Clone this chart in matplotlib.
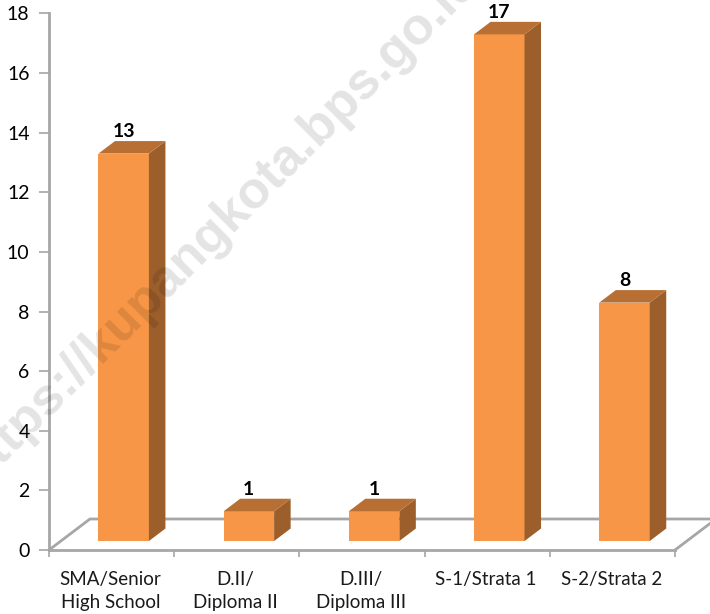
import matplotlib
matplotlib.use('Agg')
import matplotlib.pyplot as plt
from matplotlib.patches import Polygon

categories = ['SMA/Senior\nHigh School', 'D.II/\nDiploma II', 'D.III/\nDiploma III', 'S-1/Strata 1', 'S-2/Strata 2']
values = [13, 1, 1, 17, 8]
y_ticks = [0, 2, 4, 6, 8, 10, 12, 14, 16, 18]
watermark = 'https://kupangkota.bps.go.id'

plt.rcParams['font.family'] = ['Lato', 'DejaVu Sans']

W, H = 710, 614
AXIS = '#a6a6a6'
FRONT = '#f79646'
SIDE = '#9c5f2c'
TOP = '#b86f34'

# everything below is in data units: 1 category wide, 18 units high
bar_left = 0.395
bar_w = 0.403
floor = 0.3
dx = 0.132
dy = 0.42

fig = plt.figure(figsize=(W / 100, H / 100), dpi=100)
ax = fig.add_axes([49 / W, 1 - 550 / H, 626 / W, 536.5 / H])
ax.set_xlim(0, 5)
ax.set_ylim(0, 18)
ax.patch.set_alpha(0)

for s in ['top', 'right']:
    ax.spines[s].set_visible(False)
for s in ['left', 'bottom']:
    ax.spines[s].set_color(AXIS)
    ax.spines[s].set_linewidth(2)

ax.set_yticks(y_ticks)
ax.set_xticks(range(6))
ax.set_xticklabels([''] * 6)
ax.tick_params(axis='y', length=7, color=AXIS, width=1.2, labelsize=14, pad=7, labelcolor='black')
ax.tick_params(axis='x', length=5, color=AXIS, width=1.2)

# floor of the 3D box
ax.plot([0, 0.327, 5.4], [0, 1.04, 1.04], color=AXIS, lw=2, clip_on=False, zorder=1)
ax.plot([5, 5.327], [0, 1.04], color=AXIS, lw=2, clip_on=False, zorder=1)

for i, v in enumerate(values):
    x0 = i + bar_left
    x1 = x0 + bar_w
    y1 = v + floor
    ax.bar(x0, v, width=bar_w, bottom=floor, align='edge', color=FRONT, zorder=3)
    ax.add_patch(Polygon([(x1, floor), (x1 + dx, floor + dy), (x1 + dx, y1 + dy), (x1, y1)],
                         color=SIDE, zorder=3, lw=0))
    ax.add_patch(Polygon([(x0, y1), (x0 + dx, y1 + dy), (x1 + dx, y1 + dy), (x1, y1)],
                         color=TOP, zorder=3, lw=0))
    ax.text(x0 + bar_w / 2 + 0.0, y1 + dy + 0.02, str(v), ha='center', va='bottom', fontsize=14,
            fontweight='bold', color='black', clip_on=False, zorder=4)

for i, c in enumerate(categories):
    ax.text(i + 0.49, -0.7, c, ha='center', va='top', fontsize=13.5, color='#1a1a1a',
            linespacing=1.42, clip_on=False)

# watermark sits over the bars, see-through, runs off the top like the original
fig.text(220 / W, 1 - 225 / H, watermark, rotation=45, fontsize=37.5, fontweight='bold',
         family='Liberation Sans', color='black', alpha=0.11, ha='center', va='center',
         rotation_mode='anchor', zorder=10)

fig.savefig('out.png', dpi=100)
